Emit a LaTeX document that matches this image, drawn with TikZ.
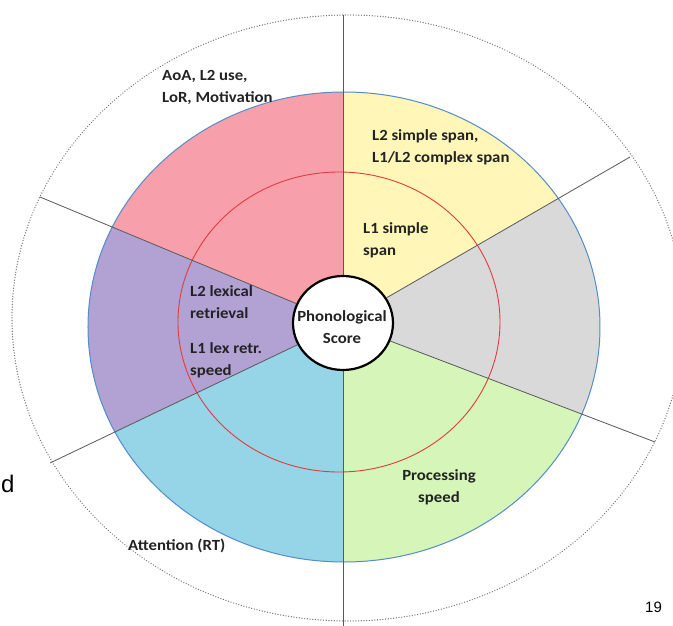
\documentclass[tikz,border=0pt]{standalone}
\usepackage{fontspec}
\setmainfont{Carlito}
\newfontfamily\lblfont{Carlito}[FakeStretch=1.08]
\newfontfamily\slidefont{Liberation Sans}
\usetikzlibrary{calc, shapes.geometric}

\definecolor{segPink}{RGB}{247,160,172}
\definecolor{segYellow}{RGB}{255,246,184}
\definecolor{segGray}{RGB}{217,217,217}
\definecolor{segGreen}{RGB}{213,245,185}
\definecolor{segBlue}{RGB}{150,212,232}
\definecolor{segPurple}{RGB}{178,161,211}
\definecolor{rimBlue}{RGB}{85,140,200}
\definecolor{ringRed}{RGB}{225,60,60}
\definecolor{txtDark}{RGB}{35,35,35}

\begin{document}
\begin{tikzpicture}[
    x=1pt, y=1pt,
    seg/.style={fill=#1, draw=none},
    spoke/.style={draw=black!65, line width=0.8pt},
    lbl/.style={font=\lblfont\bfseries\fontsize{15.5}{22}\selectfont, text=txtDark, inner sep=0pt, align=#1},
    lbl/.default=left,
    hub/.style={ellipse, draw=black, line width=2.2pt, fill=white, minimum width=100pt, minimum height=94pt, inner sep=0pt}
]
\clip (-343,323) rectangle (330,-302);
\fill[white] (-343,323) rectangle (330,-302);

\coordinate (C) at (0,0);
\coordinate (eTop) at (0,308);
\coordinate (eUR) at (287,166);
\coordinate (eLR) at (312,-119);
\coordinate (eBot) at (0,-305);
\coordinate (eLL) at (-293,-140);
\coordinate (eUL) at (-303,126);

% coloured sectors
\begin{scope}
  \clip (1,-4) ellipse [x radius=256, y radius=235];
  \fill[seg=segYellow] (C) -- ($(C)!2!(eTop)$) -- ($(C)!2!(eUR)$) -- cycle;
  \fill[seg=segGray] (C) -- ($(C)!2!(eUR)$) -- ($(C)!2!(eLR)$) -- cycle;
  \fill[seg=segGreen] (C) -- ($(C)!2!(eLR)$) -- ($(C)!2!(eBot)$) -- cycle;
  \fill[seg=segBlue] (C) -- ($(C)!2!(eBot)$) -- ($(C)!2!(eLL)$) -- cycle;
  \fill[seg=segPurple] (C) -- ($(C)!2!(eLL)$) -- ($(C)!2!(eUL)$) -- cycle;
  \fill[seg=segPink] (C) -- ($(C)!2!(eUL)$) -- ($(C)!2!(eTop)$) -- cycle;
\end{scope}
\draw[rimBlue, line width=1pt] (1,-4) ellipse [x radius=256, y radius=235];
\draw[ringRed, line width=0.9pt] (-4,1) ellipse [x radius=161, y radius=150];
\draw[black!55, line width=1.3pt, line cap=round, dash pattern=on 0.1pt off 2.6pt] (5,5) ellipse [x radius=336, y radius=303];

\node[hub] (hub) at (C) {};
\foreach \e in {eTop, eUR, eLR, eBot, eLL, eUL}
  \draw[spoke] (hub) -- (\e);

% labels (base = last line)
\node[lbl=center, anchor=base] (score) at (-1,-20) {Phonological\\Score};

\node[lbl, anchor=base west] (aoa) at (-181,221) {AoA, L2 use,\\LoR, Motivation};
\node[lbl, anchor=base west] (l2span) at (29,161) {L2 simple span,\\L1/L2 complex span};
\node[lbl, anchor=base west] (l1span) at (20,68) {L1 simple\\span};
\node[lbl, anchor=base west] (l2lex) at (-153,5) {L2 lexical\\retrieval};
\node[lbl, anchor=base west] (l1lex) at (-153,-52) {L1 lex retr.\\speed};
\node[lbl=center, anchor=base] (proc) at (96,-179) {Processing\\speed};
\node[lbl, anchor=base west] (attn) at (-215,-227) {Attention (RT)};

\node[font=\slidefont\fontsize{24}{24}\selectfont, inner sep=0pt, anchor=base west] (cutd) at (-342,-169) {d};
\node[font=\slidefont\fontsize{15}{15}\selectfont, inner sep=0pt, anchor=base west] (pageno) at (302,-289) {19};
\end{tikzpicture}
\end{document}
